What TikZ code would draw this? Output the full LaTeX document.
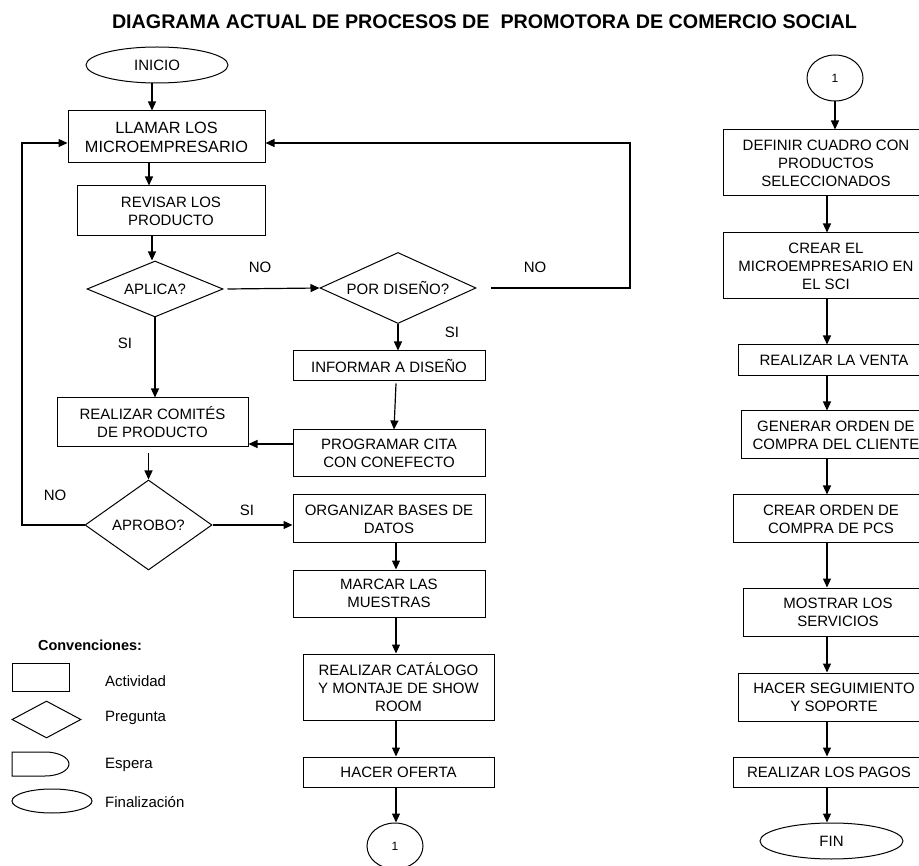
\documentclass[tikz,border=0pt]{standalone}
\usepackage{fontspec}
\setmainfont{Liberation Sans}
\usetikzlibrary{shapes.geometric,arrows.meta}
\newcommand\fs{\fontsize{15}{18}\selectfont}
\tikzset{
  box/.style={draw, rectangle, line width=1pt, inner sep=0pt, align=center, font=\fs},
  dia/.style={draw, diamond, line width=1pt, inner sep=0pt, align=center, font=\fs},
  term/.style={draw, ellipse, line width=1pt, inner sep=0pt, align=center, font=\fs},
  conn/.style={draw, ellipse, line width=1pt, inner sep=0pt, minimum width=56pt, minimum height=46pt, font=\fontsize{12}{14}\selectfont},
  arr/.style={line width=1.2pt, -{Triangle[width=8pt,length=9pt]}},
  ln/.style={line width=1.2pt},
  lbl/.style={font=\fs, inner sep=0pt},
  leg/.style={line width=1pt},
}
\begin{document}
\begin{tikzpicture}[x=1pt,y=-1pt]
\useasboundingbox (0,0) rectangle (919,866);
\fill[white] (0,0) rectangle (919,866);
\clip (0,0) rectangle (919,866);

% title
\node[font=\bfseries\fontsize{19.7}{22}\selectfont, inner sep=0pt] (title) at (484.5,22) {DIAGRAMA ACTUAL DE PROCESOS DE\ \ PROMOTORA DE COMERCIO SOCIAL};

% left column
\node[term, minimum width=142pt, minimum height=36pt] (inicio) at (157,65) {INICIO};
\node[box, minimum width=197pt, minimum height=52pt, font=\fontsize{16.3}{19}\selectfont] (llamar) at (166.5,137) {LLAMAR LOS\\MICROEMPRESARIO};
\node[box, minimum width=188pt, minimum height=50pt] (revisar) at (171,211) {REVISAR LOS\\PRODUCTO};
\node[dia, minimum width=136pt, minimum height=56pt, aspect=2.4] (aplica) at (155,289) {APLICA?};
\node[dia, minimum width=156pt, minimum height=71pt, aspect=2.2] (pordis) at (398,288) {POR DISEÑO?};
\node[box, minimum width=192pt, minimum height=30pt] (informar) at (389,366) {INFORMAR A DISEÑO};
\node[box, minimum width=192pt, minimum height=47pt] (programar) at (389,453.5) {PROGRAMAR CITA\\CON CONEFECTO};
\node[box, minimum width=191pt, minimum height=49pt] (comites) at (152.5,422.5) {REALIZAR COMITÉS\\DE PRODUCTO};
\node[dia, minimum width=127pt, minimum height=90pt, aspect=1.4] (aprobo) at (148.5,525) {APROBO?};
\node[box, minimum width=192pt, minimum height=48pt] (organizar) at (389,519) {ORGANIZAR BASES DE\\DATOS};
\node[box, minimum width=192pt, minimum height=47pt] (marcar) at (389,593.5) {MARCAR LAS\\MUESTRAS};
\node[box, minimum width=191pt, minimum height=66pt] (catalogo) at (398.5,687) {REALIZAR CATÁLOGO\\Y MONTAJE DE SHOW\\ROOM};
\node[box, minimum width=191pt, minimum height=30pt] (oferta) at (398.5,772) {HACER OFERTA};
\node[conn] (uno) at (395,846) {1};

% right column
\node[conn] (unob) at (835,78) {1};
\node[box, minimum width=206pt, minimum height=66pt] (definir) at (826,163) {DEFINIR CUADRO CON\\PRODUCTOS\\SELECCIONADOS};
\node[box, minimum width=206pt, minimum height=66pt] (crear) at (826,266) {CREAR EL\\MICROEMPRESARIO EN\\EL SCI};
\node[box, minimum width=192pt, minimum height=31pt] (venta) at (834,360.5) {REALIZAR LA VENTA};
\node[box, minimum width=190pt, minimum height=48pt] (generar) at (836,435) {GENERAR ORDEN DE\\COMPRA DEL CLIENTE};
\node[box, minimum width=196pt, minimum height=48pt] (orden) at (831,519) {CREAR ORDEN DE\\COMPRA DE PCS};
\node[box, minimum width=190pt, minimum height=48pt] (mostrar) at (838,612) {MOSTRAR LOS\\SERVICIOS};
\node[box, minimum width=192pt, minimum height=48pt] (seguim) at (834,697) {HACER SEGUIMIENTO\\Y SOPORTE};
\node[box, minimum width=192pt, minimum height=30pt] (pagos) at (829,772) {REALIZAR LOS PAGOS};
\node[term, minimum width=143pt, minimum height=36pt] (fin) at (831.5,841) {FIN};

% helper coordinates
\coordinate (xa) at (152,0);
\coordinate (xb) at (149,0);
\coordinate (xc) at (396,0);
\coordinate (xr) at (827,0);
\coordinate (rloop) at (630,143);
\coordinate (lloop) at (22,143);
\coordinate (p8) at ([yshift=9.5pt]programar.west);
\coordinate (c10) at ([yshift=-6pt]comites.south);
\coordinate (i7a) at ([xshift=7pt,yshift=-2pt]informar.south);
\coordinate (i7b) at ([xshift=5pt]programar.north);

% left connectors
\draw[arr] (inicio.south -| xa) -- (llamar.north -| xa);
\draw[arr] (llamar.south -| xb) -- (revisar.north -| xb);
\draw[arr] (revisar.south -| xa) -- (aplica.north -| xa);
\draw[arr] ([xshift=4pt]aplica.east) -- (pordis.west);
\draw[arr] ([xshift=14pt]pordis.east) -| (rloop) -- (rloop -| llamar.east);
\draw[arr] (pordis.south) -- (pordis.south |- informar.north);
\draw[arr] (i7a) -- (i7b);
\draw[arr] (p8) -- (p8 -| comites.east);
\draw[arr] (aplica.south) -- (aplica.south |- comites.north);
\draw[arr] (c10 -| aprobo.north) -- (aprobo.north);
\draw[arr] (aprobo.west) -| (lloop) -- (lloop -| llamar.west);
\draw[arr] (aprobo.east) -- (aprobo.east -| organizar.west);
\draw[arr] (organizar.south -| xc) -- (marcar.north -| xc);
\draw[arr] (marcar.south -| xc) -- (catalogo.north -| xc);
\draw[arr] (catalogo.south -| xc) -- (oferta.north -| xc);
\draw[arr] (oferta.south -| xc) -- (uno.north -| xc);

% right connectors
\draw[arr] (unob.south) -- (unob.south |- definir.north);
\draw[arr] (definir.south -| xr) -- (crear.north -| xr);
\draw[arr] (crear.south -| xr) -- (venta.north -| xr);
\draw[arr] (venta.south -| xr) -- (generar.north -| xr);
\draw[arr] (generar.south -| xr) -- (orden.north -| xr);
\draw[arr] (orden.south -| xr) -- (mostrar.north -| xr);
\draw[arr] (mostrar.south -| xr) -- (seguim.north -| xr);
\draw[arr] (seguim.south -| xr) -- (pagos.north -| xr);
\draw[arr] (pagos.south -| xr) -- (fin.north -| xr);

% labels
\node[lbl] (no1) at (260,267) {NO};
\node[lbl] (no2) at (535,267) {NO};
\node[lbl] (si1) at (452,332) {SI};
\node[lbl] (si2) at (125,343) {SI};
\node[lbl] (no3) at (55,495) {NO};
\node[lbl] (si3) at (247,510) {SI};

% legend
\node[font=\bfseries\fontsize{14.5}{17}\selectfont, inner sep=0pt] (convtitle) at (90,645) {Convenciones:};
\node[draw, rectangle, leg, minimum width=57pt, minimum height=28pt, inner sep=0pt] (legact) at (40.5,677) {};
\node[draw, diamond, leg, minimum width=69pt, minimum height=37pt, inner sep=0pt, aspect=1.9] (legpreg) at (46.5,719.5) {};
\draw[leg] (12,752) -- (45,752) arc[start angle=-90, end angle=90, x radius=24, y radius=12] -- (12,776) -- cycle;
\node[draw, ellipse, leg, minimum width=80pt, minimum height=24pt, inner sep=0pt] (legfin) at (52,801) {};
\node[lbl, anchor=west] (tact) at (105,681) {Actividad};
\node[lbl, anchor=west] (tpreg) at (105,718) {Pregunta};
\node[lbl, anchor=west] (tesp) at (105,765) {Espera};
\node[lbl, anchor=west] (tfin) at (105,802) {Finalización};
\end{tikzpicture}
\end{document}
